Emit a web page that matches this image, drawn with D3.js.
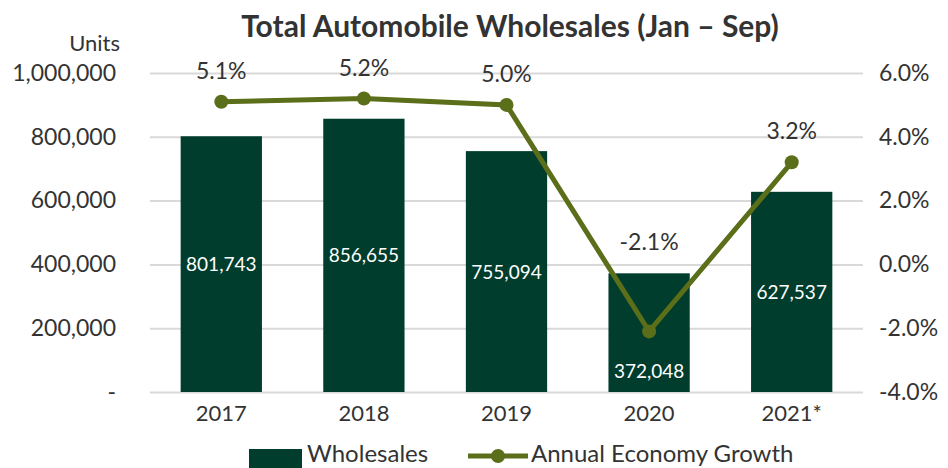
<!DOCTYPE html>
<html>
<head>
<meta charset="utf-8">
<script src="https://cdn.jsdelivr.net/npm/d3@7"></script>
<style>
  body { margin: 0; background: #fff; }
  text { font-family: Lato, "Noto Sans", sans-serif; fill: #333; }
</style>
</head>
<body>
<div id="chart-area"></div>
<script>
var years = ["2017", "2018", "2019", "2020", "2021*"];
var wholesales = [801743, 856655, 755094, 372048, 627537];
var growth = [5.1, 5.2, 5.0, -2.1, 3.2];
var leftTicks = [0, 200000, 400000, 600000, 800000, 1000000];
var rightTicks = [-4, -2, 0, 2, 4, 6];

var formatC = d3.format(",");
var formatP = function(v){ return v.toFixed(1) + "%"; };

var margin = {left:150, right:85, top:73, bottom:76};
var width = 948 - margin.left - margin.right;
var height = 468 - margin.top - margin.bottom;

var barColor = "#003d2c";
var lineColor = "#5b6e1a";

var svg = d3.select("#chart-area")
    .append("svg")
    .attr("width", 948)
    .attr("height", 468);

var g = svg.append("g")
    .attr("transform", "translate(" + margin.left + "," + margin.top + ")");

var x = d3.scaleBand()
    .domain(years)
    .range([0, width])
    .paddingInner(0.43)
    .paddingOuter(0.215);

var y = d3.scaleLinear()
    .domain([0, 1000000])
    .range([height, 0]);

var y2 = d3.scaleLinear()
    .domain([-4, 6])
    .range([height, 0]);

// gridlines
g.append("g")
    .attr("class", "grid")
    .call(d3.axisLeft(y).tickValues(leftTicks).tickSize(-width).tickFormat(""))
    .call(function(s){
        s.select(".domain").remove();
        s.selectAll("line").attr("stroke", "#d9d9d9").attr("stroke-width", 2);
    });

// left axis labels
g.append("g")
    .attr("transform", "translate(-31,0)")
    .call(d3.axisLeft(y).tickValues(leftTicks).tickSize(0)
        .tickFormat(function(d){ return d === 0 ? "-" : formatC(d); }))
    .call(function(s){
        s.select(".domain").remove();
        s.selectAll("text").attr("font-size", "23px").attr("fill", "#333")
            .attr("font-family", "Lato, sans-serif");
    });

// right axis labels
g.append("g")
    .attr("transform", "translate(" + (width + 13) + ",0)")
    .call(d3.axisRight(y2).tickValues(rightTicks).tickSize(0).tickFormat(formatP))
    .call(function(s){
        s.select(".domain").remove();
        s.selectAll("text").attr("font-size", "23px").attr("fill", "#333")
            .attr("font-family", "Lato, sans-serif");
    });

// x axis labels
g.append("g")
    .attr("transform", "translate(0," + height + ")")
    .call(d3.axisBottom(x).tickSize(0).tickPadding(13))
    .call(function(s){
        s.select(".domain").remove();
        s.selectAll("text").attr("font-size", "22px").attr("fill", "#333")
            .attr("font-family", "Lato, sans-serif");
    });

// units label
svg.append("text")
    .attr("x", margin.left - 30)
    .attr("y", 51)
    .attr("text-anchor", "end")
    .attr("font-size", "22px")
    .text("Units");

// title
svg.append("text")
    .attr("x", 510)
    .attr("y", 37)
    .attr("text-anchor", "middle")
    .attr("font-size", "30px")
    .attr("font-weight", "bold")
    .text("Total Automobile Wholesales (Jan \u2013 Sep)");

// bars
g.selectAll("rect.bar")
    .data(years)
    .enter()
    .append("rect")
    .attr("class", "bar")
    .attr("x", function(d){ return x(d); })
    .attr("y", function(d, i){ return y(wholesales[i]); })
    .attr("width", x.bandwidth())
    .attr("height", function(d, i){ return height - y(wholesales[i]); })
    .attr("fill", barColor);

// bar labels (moved down to the base when the line marker sits in the middle)
g.selectAll("text.barlabel")
    .data(years)
    .enter()
    .append("text")
    .attr("class", "barlabel")
    .attr("x", function(d){ return x(d) + x.bandwidth() / 2; })
    .attr("y", function(d, i){
        var mid = (y(wholesales[i]) + height) / 2;
        if (Math.abs(y2(growth[i]) - mid) < 30) return height - 14;
        return mid + 7;
    })
    .attr("text-anchor", "middle")
    .attr("font-size", "19px")
    .style("fill", "#fff")
    .text(function(d, i){ return formatC(wholesales[i]); });

// growth line
var line = d3.line()
    .x(function(d, i){ return x(years[i]) + x.bandwidth() / 2; })
    .y(function(d){ return y2(d); });

g.append("path")
    .datum(growth)
    .attr("d", line)
    .attr("fill", "none")
    .attr("stroke", lineColor)
    .attr("stroke-width", 5);

g.selectAll("circle.pt")
    .data(growth)
    .enter()
    .append("circle")
    .attr("class", "pt")
    .attr("cx", function(d, i){ return x(years[i]) + x.bandwidth() / 2; })
    .attr("cy", function(d){ return y2(d); })
    .attr("r", 7)
    .attr("fill", lineColor);

g.selectAll("text.pctlabel")
    .data(growth)
    .enter()
    .append("text")
    .attr("class", "pctlabel")
    .attr("x", function(d, i){ return x(years[i]) + x.bandwidth() / 2; })
    .attr("y", function(d, i){ return Math.min(y2(d), y(wholesales[i])) - 23; })
    .attr("text-anchor", "middle")
    .attr("font-size", "23px")
    .text(function(d){ return formatP(d); });

// legend
var legend = svg.append("g");
legend.append("rect")
    .attr("x", 249).attr("y", 449)
    .attr("width", 53).attr("height", 19)
    .attr("fill", barColor);
legend.append("text")
    .attr("x", 307).attr("y", 462)
    .attr("font-size", "24px")
    .text("Wholesales");
legend.append("line")
    .attr("x1", 468).attr("x2", 528)
    .attr("y1", 456).attr("y2", 456)
    .attr("stroke", lineColor).attr("stroke-width", 5);
legend.append("circle")
    .attr("cx", 498).attr("cy", 456).attr("r", 7)
    .attr("fill", lineColor);
legend.append("text")
    .attr("x", 531).attr("y", 462)
    .attr("font-size", "24px")
    .text("Annual Economy Growth");
</script>
</body>
</html>
